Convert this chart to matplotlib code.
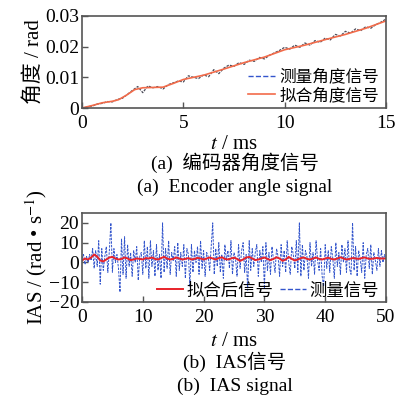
import numpy as np
import matplotlib
matplotlib.use("Agg")
import matplotlib.pyplot as plt
from matplotlib.lines import Line2D

plt.rcParams['font.family'] = ['Liberation Serif', 'Noto Sans CJK SC']
plt.rcParams['mathtext.fontset'] = 'stix'
plt.rcParams['axes.unicode_minus'] = True

# ---- (a) encoder angle ----
t_meas = np.arange(0, 15.01, 0.25)
angle_meas = [0.0000, 0.0004, 0.0006, 0.0013, 0.0015, 0.0021, 0.0020, 0.0028, 0.0032, 0.0045,
              0.0058, 0.0070, 0.0050, 0.0072, 0.0066, 0.0070, 0.0062, 0.0076, 0.0082, 0.0088,
              0.0085, 0.0105, 0.0100, 0.0096, 0.0108, 0.0102, 0.0125, 0.0112, 0.0130, 0.0140,
              0.0136, 0.0148, 0.0142, 0.0156, 0.0152, 0.0165, 0.0160, 0.0172, 0.0180, 0.0188,
              0.0198, 0.0192, 0.0205, 0.0198, 0.0212, 0.0205, 0.0220, 0.0214, 0.0228, 0.0222,
              0.0240, 0.0235, 0.0250, 0.0244, 0.0258, 0.0252, 0.0265, 0.0260, 0.0272, 0.0280,
              0.0290]
t_fit = [0, 0.5, 1, 1.5, 1.8, 2.2, 2.6, 3.0, 3.5, 4.0, 4.5, 5, 6, 7, 8, 9, 10, 11, 12, 13, 14, 15]
angle_fit = [0, 0.0008, 0.0017, 0.0022, 0.0027, 0.0042, 0.0060, 0.0066, 0.0067, 0.0068, 0.0080,
             0.0093, 0.0107, 0.0127, 0.0148, 0.0166, 0.0190, 0.0205, 0.0223, 0.0240, 0.0260, 0.0284]

# ---- (b) IAS ----
t_ias = np.arange(0, 50.01, 0.25)
ias_meas = [2, 4, -1, 3, 0, 4, 1, 7, -3, 6,
            -2, 11, -11, 7, -4, 3, 8, -5, 6, 20,
            -5, 7, 0, 4, -3, -15, 12, -6, 13, -8,
            9, -2, 5, -7, 6, 0, 8, -9, 3, 5,
            -6, 11, -3, 8, -8, 11, -2, 6, -7, 9,
            -4, 4, -8, 20, -5, 7, -3, 11, -6, 5,
            1, 8, -7, 10, -4, 5, -2, 9, -8, 7,
            4, -12, 9, -5, 6, 0, 8, -6, 11, -3,
            6, -7, 5, 3, -4, 8, 20, -6, 7, -2,
            10, -5, 4, -8, 9, 1, 6, -3, 11, -6,
            5, 2, -7, 9, -3, 6, 10, -5, 4, -14,
            11, -4, 7, -2, 5, 9, -7, 6, 0, 8,
            -13, 10, -4, 5, -6, 8, 1, -5, 7, 3,
            -7, 9, -2, 6, -5, 11, 0, -6, 8, 4,
            -3, 11, -5, 20, -7, 9, -4, 6, 3, -8,
            10, -2, 5, -6, 11, 1, -4, 7, -7, -12,
            9, -3, 6, -5, 8, 2, -8, 10, -2, 5,
            -6, 9, 0, 7, -5, 11, -3, -6, 20, -4,
            8, -7, 6, 2, -5, 10, -8, 4, 7, -3,
            9, -6, 5, 1, -4, 7, -2, 6, 0, 4,
            2]
t_ias_fit = np.arange(0, 50.01, 0.5)
ias_fit = [1.0, 2.0, 1.5, 2.5, 4.0, 3.0, 1.0, 0.5, 1.5, 2.5,
           2.8, 2.0, 1.5, 1.8, 2.5, 2.0, 1.2, 1.5, 2.0, 1.8,
           1.5, 2.2, 2.0, 2.5, 1.8, 1.5, 2.2, 2.8, 2.0, 1.5,
           1.8, 2.5, 2.0, 1.5, 1.8, 2.2, 1.5, 1.8, 2.3, 2.0,
           1.5, 2.0, 2.5, 2.0, 1.5, 2.2, 2.6, 1.8, 1.5, 2.0,
           2.4, 1.8, 0.8, 1.5, 2.5, 2.8, 2.0, 1.2, 1.5, 2.0,
           2.5, 1.8, 1.2, 1.8, 2.6, 2.0, 0.8, 1.5, 2.8, 1.8,
           1.0, 1.5, 2.2, 2.5, 1.8, 1.5, 2.0, 2.5, 1.8, 1.5,
           2.0, 2.4, 1.8, 1.5, 2.0, 2.6, 2.0, 1.5, 1.8, 2.2,
           2.0, 1.8, 2.2, 2.5, 2.0, 1.8, 2.0, 2.3, 2.0, 2.0,
           2.0]

W, H = 396, 397
fig = plt.figure(figsize=(W / 100, H / 100), dpi=100)

def frac(x0, y0, x1, y1):
    return [x0 / W, 1 - y1 / H, (x1 - x0) / W, (y1 - y0) / H]

ax1 = fig.add_axes(frac(82, 16, 386, 108))
ax2 = fig.add_axes(frac(82, 213, 386, 302))

for ax in (ax1, ax2):
    for s in ax.spines.values():
        s.set_color('#555555')
        s.set_linewidth(1.2)
    ax.tick_params(direction='in', length=4, width=1, color='#555555',
                   labelsize=14, top=False, right=False)
    ax.tick_params(axis='x', pad=5)
    ax.tick_params(axis='y', pad=2)

# top panel
ax1.plot(t_meas, angle_meas, color='#4d4d5a', lw=0.9, ls=(0, (2, 1)))
ax1.plot(t_fit, angle_fit, color='#f26b4a', lw=1.2)
ax1.set_xlim(0, 15)
ax1.set_ylim(0, 0.03)
ax1.set_xticks([0, 5, 10, 15])
ax1.set_yticks([0, 0.01, 0.02, 0.03])
ax1.set_yticklabels(['0', '0.01', '0.02', '0.03'])
ax1.set_xlabel('$t$ / ms', fontsize=15, labelpad=2)
ax1.set_ylabel('角度 / rad', fontsize=15, labelpad=1)
h1 = [Line2D([], [], color='#3355cc', lw=1, ls='--'),
      Line2D([], [], color='#f26b4a', lw=1.2)]
ax1.legend(h1, ['测量角度信号', '拟合角度信号'], loc='lower right', frameon=False,
           fontsize=12, handlelength=1.6, handletextpad=0.3, labelspacing=0.15,
           borderaxespad=0, bbox_to_anchor=(1.0, -0.03))

# bottom panel
ax2.plot(t_ias, ias_meas, color='#3355cc', lw=0.7, ls=(0, (2.5, 1.2)))
ax2.plot(t_ias_fit, ias_fit, color='#e8222a', lw=1.4)
ax2.set_xlim(0, 50)
ax2.set_ylim(-20, 25)
ax2.set_xticks([0, 10, 20, 30, 40, 50])
ax2.set_yticks([-20, -10, 0, 10, 20])
ax2.set_xlabel('$t$ / ms', fontsize=15, labelpad=4)
ax2.set_ylabel('IAS / (rad • s$^{-1}$)', fontsize=15, labelpad=0)
h2 = [Line2D([], [], color='#e8222a', lw=1.4),
      Line2D([], [], color='#3355cc', lw=1, ls='--')]
ax2.legend(h2, ['拟合后信号', '测量信号'], loc='lower right', ncol=2, frameon=False,
           fontsize=12.5, handlelength=1.5, handletextpad=0.2, columnspacing=0.4,
           borderaxespad=0, bbox_to_anchor=(1.0, -0.05))

# captions
fig.text(235 / W, 1 - 163 / H, '(a)  编码器角度信号', ha='center', va='center', fontsize=14)
fig.text(235 / W, 1 - 187 / H, '(a)  Encoder angle signal', ha='center', va='center', fontsize=14)
fig.text(235 / W, 1 - 362 / H, '(b)  IAS信号', ha='center', va='center', fontsize=14)
fig.text(235 / W, 1 - 386 / H, '(b)  IAS signal', ha='center', va='center', fontsize=14)

fig.savefig('out.png', dpi=100)
